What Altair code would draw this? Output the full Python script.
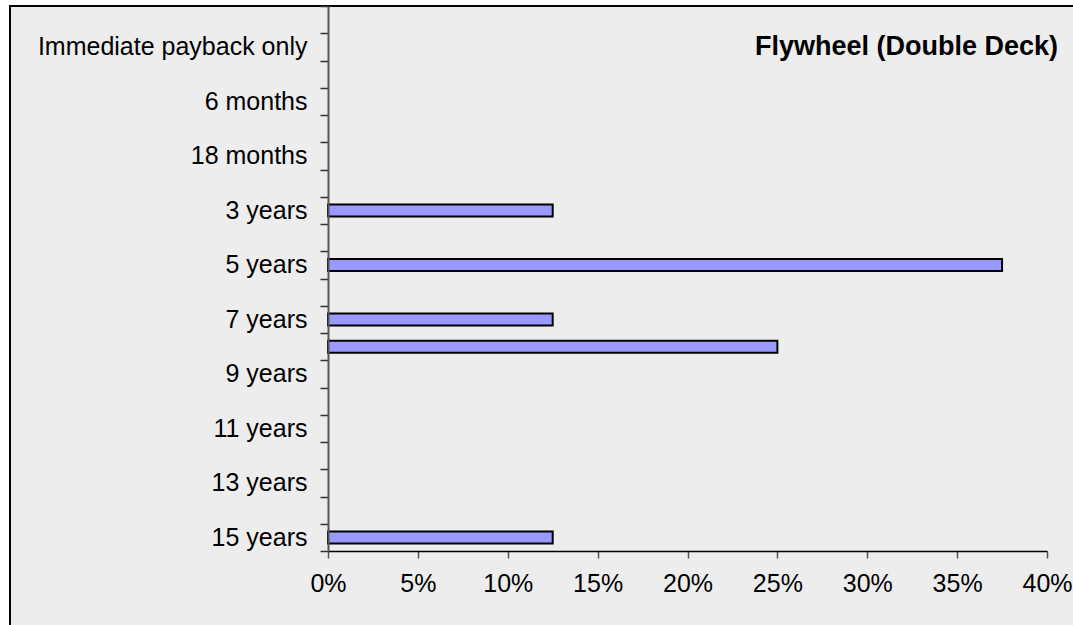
import json
import altair as alt
import pandas as pd

# Payback-period categories, top to bottom (top slot carries no label)
categories = [" ", "Immediate payback only", "3 months", "6 months", "12 months",
              "18 months", "2 years", "3 years", "4 years", "5 years", "6 years",
              "7 years", "8 years", "9 years", "10 years", "11 years", "12 years",
              "13 years", "14 years", "15 years"]
shares = [0, 0, 0, 0, 0,
          0, 0, 0.125, 0, 0.375, 0,
          0.125, 0.25, 0, 0, 0, 0,
          0, 0, 0.125]
labelled = ["Immediate payback only", "6 months", "18 months", "3 years", "5 years",
            "7 years", "9 years", "11 years", "13 years", "15 years"]
x_ticks = [0, 0.05, 0.10, 0.15, 0.20, 0.25, 0.30, 0.35, 0.40]
title_text = "Flywheel (Double Deck)"

FONT = "Liberation Sans"
W, H = 719, 545
PAD_L, PAD_T = 328, 6

df = pd.DataFrame({"payback": categories, "share": shares})
bars_df = df[df["share"] > 0]

label_expr = "indexof(" + json.dumps(labelled) + ", datum.value) >= 0 ? datum.value : ''"

y_enc = alt.Y(
    "payback:N",
    sort=categories,
    scale=alt.Scale(domain=categories, paddingInner=0, paddingOuter=0),
    axis=alt.Axis(
        title=None, tickBand="extent", labelExpr=label_expr, labelLimit=400,
        labelFont=FONT, labelFontSize=25, labelColor="#000000", labelPadding=13,
        tickSize=8, tickColor="#333333", tickWidth=1.5,
        domainColor="#555555", domainWidth=2, zindex=1,
    ),
)
x_enc = alt.X(
    "share:Q",
    scale=alt.Scale(domain=[0, 0.4], nice=False),
    axis=alt.Axis(
        title=None, values=x_ticks, format=".0%", grid=False, labelFlush=False,
        labelFont=FONT, labelFontSize=25, labelColor="#000000", labelPadding=13,
        tickSize=7, tickColor="#555555", tickWidth=1.5,
        domainColor="#000000", domainWidth=1.5, zindex=1,
    ),
)

# Grey panel with a black frame behind everything
frame = alt.Chart(alt.Data(values=[{"k": 0}])).mark_rect(
    fill="#EDEDED", stroke="#000000", strokeWidth=2
).encode(
    x=alt.value(-PAD_L + 10), x2=alt.value(W + 100),
    y=alt.value(0), y2=alt.value(H + 200),
)

bars = alt.Chart(bars_df).mark_bar(
    size=12, fill="#9999FF", stroke="#000000", strokeWidth=2
).encode(x=x_enc, y=y_enc)

title = alt.Chart(alt.Data(values=[{"t": title_text}])).mark_text(
    align="right", baseline="middle", font=FONT, fontSize=27,
    fontWeight="bold", color="#000000"
).encode(text="t:N", x=alt.value(730), y=alt.value(41))

chart = alt.layer(frame, bars, title).properties(
    width=W, height=H,
    padding={"left": PAD_L, "top": PAD_T, "right": 1073 - PAD_L - W, "bottom": 625 - PAD_T - H},
    autosize=alt.AutoSizeParams(type="none"),
    background="#FFFFFF",
).configure_view(stroke=None)

chart.save("out.html", embed_options={"renderer": "svg", "actions": False})
